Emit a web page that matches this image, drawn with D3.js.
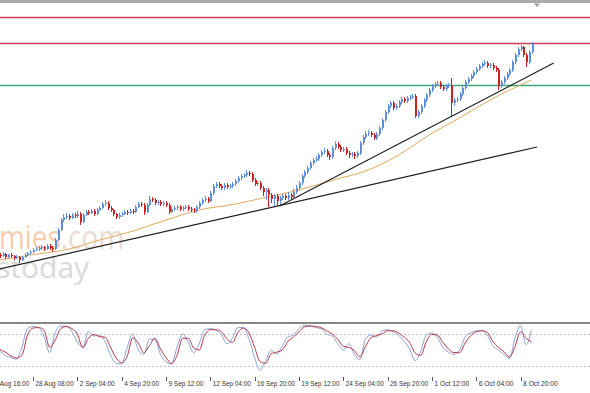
<!DOCTYPE html>
<html>
<head>
<meta charset="utf-8">
<script src="https://cdn.jsdelivr.net/npm/d3@7"></script>
<style>
body { margin: 0; background: #fff; }
svg { display: block; }
</style>
</head>
<body>
<svg class="chart" width="590" height="393"></svg>
<script>
// H4 candles, open of each bar = previous close
var firstOpen = 3407;
var closes = [
	3404,3410,3401,3407,3404,3398,3401,3392,3401,3407,
	3413,3416,3422,3425,3428,3431,3425,3434,3428,3425,
	3452,3482,3512,3521,3524,3518,3527,3524,3530,3506,
	3527,3536,3533,3539,3530,3542,3548,3560,3563,3548,
	3542,3530,3521,3527,3530,3536,3533,3539,3536,3551,
	3560,3557,3536,3557,3575,3572,3563,3566,3560,3563,
	3557,3536,3545,3548,3551,3545,3548,3551,3545,3542,
	3539,3551,3563,3572,3575,3569,3593,3614,3620,3614,
	3608,3617,3611,3614,3620,3629,3638,3644,3647,3653,
	3650,3632,3620,3623,3608,3596,3602,3587,3575,3584,
	3569,3578,3584,3578,3587,3581,3596,3608,3623,3644,
	3656,3668,3683,3692,3695,3707,3716,3719,3707,3701,
	3728,3740,3731,3722,3725,3713,3707,3710,3704,3713,
	3743,3761,3770,3773,3767,3758,3770,3788,3812,3836,
	3854,3863,3848,3854,3866,3875,3869,3878,3881,3884,
	3824,3836,3854,3872,3887,3902,3914,3920,3923,3911,
	3905,3914,3917,3863,3872,3875,3890,3908,3926,3935,
	3944,3956,3965,3974,3980,3983,3974,3977,3968,3962,
	3914,3926,3938,3950,3962,3986,4007,4025,4031,4007,
	3986,4016,4040
];
var highs = [
	3413,3416,3413,3410,3413,3407,3407,3404,3404,3413,
	3416,3422,3428,3431,3434,3437,3434,3440,3440,3434,
	3458,3488,3518,3530,3533,3530,3533,3533,3539,3536,
	3533,3542,3542,3545,3545,3548,3554,3566,3572,3569,
	3554,3545,3533,3533,3536,3542,3542,3545,3545,3557,
	3566,3566,3563,3563,3584,3581,3578,3572,3572,3569,
	3569,3563,3551,3554,3557,3557,3554,3557,3557,3551,
	3548,3557,3569,3578,3584,3581,3599,3620,3626,3626,
	3620,3623,3623,3620,3626,3635,3644,3650,3653,3662,
	3659,3656,3638,3629,3629,3614,3608,3608,3593,3590,
	3590,3584,3590,3590,3596,3593,3605,3617,3629,3650,
	3662,3674,3689,3698,3704,3713,3722,3728,3725,3713,
	3734,3749,3746,3737,3731,3731,3719,3716,3716,3719,
	3749,3767,3779,3782,3779,3773,3776,3794,3818,3842,
	3860,3869,3869,3860,3872,3881,3881,3884,3887,3890,
	3890,3842,3860,3878,3893,3908,3920,3926,3929,3929,
	3917,3920,3923,3938,3878,3881,3896,3914,3932,3941,
	3950,3962,3971,3980,3986,3992,3989,3983,3983,3974,
	3968,3932,3944,3956,3968,3992,4013,4031,4037,4034,
	4013,4022,4046
];
var lows = [
	3398,3401,3395,3398,3398,3392,3395,3383,3389,3398,
	3404,3407,3413,3419,3419,3422,3419,3422,3422,3416,
	3422,3449,3479,3506,3515,3512,3515,3518,3518,3497,
	3503,3524,3527,3530,3524,3527,3539,3545,3554,3542,
	3536,3524,3515,3515,3521,3527,3527,3530,3530,3533,
	3548,3551,3527,3533,3554,3566,3557,3557,3554,3554,
	3551,3530,3533,3539,3542,3539,3539,3545,3539,3536,
	3533,3533,3545,3557,3566,3563,3566,3587,3608,3608,
	3602,3602,3605,3605,3608,3614,3623,3632,3638,3641,
	3644,3626,3614,3614,3602,3584,3572,3551,3563,3554,
	3554,3557,3572,3572,3572,3575,3575,3590,3602,3617,
	3638,3650,3662,3677,3686,3689,3701,3710,3701,3692,
	3695,3722,3725,3716,3716,3707,3698,3701,3695,3698,
	3707,3737,3755,3764,3761,3752,3752,3764,3782,3806,
	3830,3848,3842,3842,3848,3860,3863,3863,3872,3875,
	3818,3818,3830,3848,3866,3881,3896,3908,3914,3905,
	3899,3899,3908,3824,3854,3866,3869,3884,3902,3920,
	3929,3938,3950,3959,3968,3974,3968,3968,3962,3956,
	3902,3908,3920,3932,3944,3956,3980,4001,4019,4001,
	3971,3980,4010
];
// moving average, read at some bars
var maBars = [0, 11, 25, 36, 47, 60, 72, 85, 95, 108, 123, 130, 144, 155, 166, 177, 192];
var maValues = [3392, 3407, 3425, 3452, 3476, 3512, 3542, 3560, 3578, 3602, 3638, 3653, 3707, 3767, 3818, 3872, 3932];
// horizontal levels and trend lines
var levels = [4120, 4042, 3916];
var trendA = [[0, 3365], [194, 3731]];
var trendB = [[101, 3554], [200, 3983]];
// stochastic, every second bar
var stochMain = [48,40,36,33,55,90,94,92,75,45,82,95,94,85,65,55,85,76,78,66,40,25,24,55,80,50,42,70,70,42,28,24,55,80,65,45,62,88,90,87,78,62,72,92,92,70,36,12,30,50,42,58,74,78,90,96,95,92,90,80,76,62,50,62,42,32,70,78,74,86,88,84,78,66,52,30,48,78,82,74,55,46,42,50,74,82,86,86,78,58,50,42,34,72,96,60,87];
var stochSignal = [51,46,39,35,40,78,91,92,87,55,68,90,94,90,80,54,72,79,75,74,55,35,26,38,73,63,45,58,72,52,36,25,40,72,72,54,50,78,88,88,84,71,64,83,91,82,55,28,25,43,46,50,66,74,84,93,95,94,92,86,80,70,57,55,49,37,56,73,77,80,86,86,82,74,64,44,40,66,79,78,64,52,45,45,63,77,84,86,83,66,55,47,37,56,84,72,65];
var stochLevels = [80, 20];
var tickBars = [-4, 12, 28, 44, 60, 76, 92, 108, 124, 140, 156, 172, 188];
var tickLabels = ["25 Aug 16:00", "28 Aug 08:00", "2 Sep 04:00", "4 Sep 20:00", "9 Sep 12:00", "12 Sep 04:00",
	"16 Sep 20:00", "19 Sep 12:00", "24 Sep 04:00", "26 Sep 20:00", "1 Oct 12:00", "6 Oct 04:00", "8 Oct 20:00"];

var bluecolor = "#5f8fdc",
	redcolor = "#d21f1f",
	levelcolors = ["#d23c5a", "#d23c5a", "#36a875"];

var svg = d3.select(".chart"),
	W = +svg.attr("width");

var x = d3.scaleLinear().domain([12, 188]).range([33, 520.5]);
var y = d3.scaleLinear().domain([3320, 4100]).range([284, 24]);
var ys = d3.scaleLinear().domain([0, 100]).range([376.7, 323.3]);

// top bar
svg.append("rect").attr("x", 0).attr("y", 0).attr("width", W).attr("height", 3).attr("fill", "#ababab");
svg.append("path").attr("d", "M534,3.5L540,3.5L537,7Z").attr("fill", "#9a9a9a");

// watermark
var wm1 = svg.append("text")
	.attr("x", -1)
	.attr("y", 249)
	.attr("font-family", "Open Sans")
	.attr("font-size", 32)
	.attr("textLength", 125)
	.attr("lengthAdjust", "spacingAndGlyphs");
wm1.append("tspan").attr("fill", "#f6cdae").text("mies");
wm1.append("tspan").attr("fill", "#ecdcd4").text(".com");
svg.append("text")
	.attr("x", -4)
	.attr("y", 278)
	.attr("font-family", "Open Sans")
	.attr("font-size", 30)
	.attr("fill", "#dadada")
	.text("stoday");

// levels
svg.selectAll("line.level")
	.data(levels)
	.enter().append("line")
	.attr("class", "level")
	.attr("x1", 0).attr("x2", W)
	.attr("y1", function(d) { return Math.round(y(d)) + 0.5; })
	.attr("y2", function(d) { return Math.round(y(d)) + 0.5; })
	.attr("stroke", function(d, i) { return levelcolors[i]; })
	.attr("stroke-width", 1.3);

// moving average
var maLine = d3.line()
	.curve(d3.curveMonotoneX)
	.x(function(d, i) { return x(maBars[i]); })
	.y(function(d) { return y(d); });
svg.append("path")
	.datum(maValues)
	.attr("fill", "none")
	.attr("stroke", "#dfa95c")
	.attr("stroke-width", 1)
	.attr("d", maLine);

// candles
var bars = closes.map(function(c, i) {
	return { i: i, o: i ? closes[i - 1] : firstOpen, c: c, h: highs[i], l: lows[i] };
});
var cg = svg.append("g").attr("shape-rendering", "crispEdges");
cg.selectAll("line")
	.data(bars)
	.enter().append("line")
	.attr("x1", function(d) { return Math.round(x(d.i)) + 0.5; })
	.attr("x2", function(d) { return Math.round(x(d.i)) + 0.5; })
	.attr("y1", function(d) { return y(d.h); })
	.attr("y2", function(d) { return y(d.l); })
	.attr("stroke", function(d) { return d.c >= d.o ? bluecolor : redcolor; });
cg.selectAll("rect")
	.data(bars)
	.enter().append("rect")
	.attr("x", function(d) { return Math.round(x(d.i)); })
	.attr("width", 2)
	.attr("y", function(d) { return y(Math.max(d.o, d.c)); })
	.attr("height", function(d) { return Math.max(1, Math.abs(y(d.o) - y(d.c))); })
	.attr("fill", function(d) { return d.c >= d.o ? bluecolor : redcolor; });

// trend lines
[trendA, trendB].forEach(function(t) {
	svg.append("line")
		.attr("x1", x(t[0][0])).attr("y1", y(t[0][1]))
		.attr("x2", x(t[1][0])).attr("y2", y(t[1][1]))
		.attr("stroke", "#1e1e1e")
		.attr("stroke-width", 1.2);
});

// separator
svg.append("rect").attr("x", 0).attr("y", 322).attr("width", W).attr("height", 2).attr("fill", "#858585");

// stochastic
svg.selectAll("line.slevel")
	.data(stochLevels)
	.enter().append("line")
	.attr("class", "slevel")
	.attr("x1", 0).attr("x2", W)
	.attr("y1", function(d) { return Math.round(ys(d)) + 0.5; })
	.attr("y2", function(d) { return Math.round(ys(d)) + 0.5; })
	.attr("stroke", "#c4c4c4")
	.attr("stroke-dasharray", "2,2");
var sLine = d3.line()
	.curve(d3.curveMonotoneX)
	.x(function(d, i) { return x(i * 2); })
	.y(function(d) { return ys(d); });
svg.append("path")
	.datum(stochMain)
	.attr("fill", "none")
	.attr("stroke", "#8aa3d6")
	.attr("stroke-width", 1)
	.attr("d", sLine);
svg.append("path")
	.datum(stochSignal)
	.attr("fill", "none")
	.attr("stroke", "#b8344a")
	.attr("stroke-width", 1)
	.attr("d", sLine);

// time axis
var bot = svg.append("g")
	.attr("transform", "translate(0,377)")
	.call(d3.axisBottom(x)
		.tickValues(tickBars)
		.tickSize(4)
		.tickSizeOuter(0)
		.tickFormat(function(d, i) { return tickLabels[i]; }));
bot.select(".domain").remove();
bot.selectAll("line")
	.style("stroke", "#555")
	.attr("shape-rendering", "crispEdges");
bot.selectAll("text")
	.attr("text-anchor", "start")
	.attr("x", 2)
	.attr("y", 3)
	.attr("font-family", "Liberation Sans")
	.attr("font-size", 8)
	.attr("textLength", function(d, i) { return tickLabels[i].length * 3.17; })
	.attr("lengthAdjust", "spacingAndGlyphs")
	.style("fill", "#333");
</script>
</body>
</html>
